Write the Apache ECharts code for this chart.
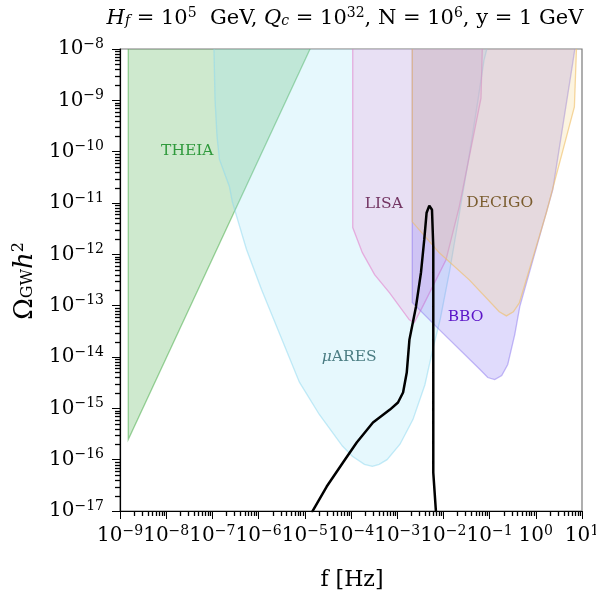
<!DOCTYPE html>
<html><head><meta charset="utf-8">
<script src="https://cdn.jsdelivr.net/npm/echarts@6/dist/echarts.min.js"></script>
<style>html,body{margin:0;padding:0;background:#fff}#c{width:596px;height:599px}</style>
</head><body><div id="c"></div><script>
// ---- data (frequency [Hz], Omega_GW h^2) ----
const xTickExps = [-9,-8,-7,-6,-5,-4,-3,-2,-1,0,1];
const yTickExps = [-17,-16,-15,-14,-13,-12,-11,-10,-9,-8];

const theiaF = [1.51e-9, 1.51e-9, 1.30e-5, 4.28e-5];
const theiaO = [1e-7, 2.47e-16, 1e-8, 1e-7];

const aresF = [1.08e-7,1.08e-7,1.14e-7,1.26e-7,1.42e-7,2.33e-7,2.71e-7,5.45e-7,1.15e-6,7.64e-6,2.06e-5,6.52e-5,1.07e-4,1.95e-4,2.90e-4,4.07e-4,6.03e-4,1.15e-3,2.19e-3,3.98e-3,5.89e-3,8.51e-3,1.38e-2,2.29e-2,3.80e-2,5.62e-2,7.59e-2,8.71e-2,9.8e-2];
const aresO = [1e-7,1e-8,1.03e-9,1.96e-10,7.05e-11,2.10e-11,1.04e-11,1.26e-12,2.09e-13,3.24e-15,7.59e-16,1.84e-16,1.17e-16,8.13e-17,7.41e-17,8.13e-17,1.0e-16,2.0e-16,6.03e-16,2.88e-15,1.41e-14,5.37e-14,5.01e-13,7.41e-12,1.10e-10,1.02e-9,6.17e-9,1e-8,1e-7];

const lisaF = [1.09e-4,1.09e-4,1.76e-4,3.24e-4,6.84e-4,1.83e-3,2.34e-3,3.55e-3,6.92e-3,1.14e-2,2.21e-2,6.52e-2,6.95e-2,7.2e-2];
const lisaO = [1e-7,3.32e-12,1.08e-12,4.04e-13,1.78e-13,5.30e-14,4.68e-14,9.6e-14,3.18e-13,7.80e-13,8.51e-12,1.10e-9,1e-8,1e-7];

const bboF = [2.12e-3,2.12e-3,8.15e-3,6.11e-2,9.12e-2,0.129,0.183,0.247,0.350,0.450,2.33,6.31,7.0,8.0];
const bboO = [1e-7,1.15e-13,3.42e-14,5.75e-15,3.98e-15,3.63e-15,4.36e-15,7.14e-15,2.74e-14,9.6e-14,1.82e-11,5.37e-9,1e-8,1e-7];

const decigoF = [2.12e-3,2.12e-3,8.15e-3,3.63e-2,0.162,0.231,0.327,0.440,1.69,6.84,7.59,8.5];
const decigoO = [1e-7,4.29e-12,1.07e-12,3.18e-13,7.59e-14,6.31e-14,7.59e-14,1.13e-13,6.41e-12,7.41e-10,1e-8,1e-7];

const sigF = [1.41e-5,2.98e-5,6.71e-5,1.33e-4,2.99e-4,6.98e-4,1.04e-3,1.34e-3,1.61e-3,1.84e-3,2.55e-3,3.27e-3,3.85e-3,4.33e-3,4.95e-3,5.40e-3,5.66e-3,6.04e-3,6.04e-3,6.04e-3,6.92e-3];
const sigO = [9.3e-18,3.0e-17,8.8e-17,2.16e-16,5.28e-16,9.46e-16,1.30e-15,2.03e-15,4.98e-15,2.18e-14,9.57e-14,4.40e-13,1.93e-12,6.47e-12,8.87e-12,8.6e-12,7.41e-12,1.41e-12,1.58e-14,5.6e-17,9.3e-18];

const labelNames = ['THEIA','LISA','DECIGO','BBO','muARES'];
const labelF = [2.86e-8, 5.13e-4, 0.166, 3.02e-2, 9.12e-5];
const labelO = [1.05e-10, 9.64e-12, 1.02e-11, 5.89e-14, 1.02e-14];

// ---- styles ----
const FONT = '"DejaVu Serif", serif';
const labelColors = ['#2f9a3c','#733563','#7a5c2e','#5b14c8','#4b7d83'];

function zip(a,b){ return a.map((v,i)=>[v,b[i]]); }
function polySeries(name, fArr, oArr, fill, stroke){
  return {
    type:'custom', name, clip:true, silent:true,
    data: zip(fArr,oArr),
    renderItem(params, api){
      if (params.dataIndex !== 0) return null;
      const pts = fArr.map((f,i)=>api.coord([f,oArr[i]]));
      return {type:'polygon', shape:{points:pts}, style:{fill, stroke, lineWidth:1.3}};
    }
  };
}
function supLabel(v){
  const e = Math.round(Math.log10(v));
  return '{b|10}{s|' + (e<0 ? '\u2212'+(-e) : e) + '}';
}
const tickRich = {
  b:{fontSize:20, fontFamily:FONT, color:'#000'},
  s:{fontSize:14, fontFamily:FONT, color:'#000', padding:[0,0,10,0]}
};

const minorX = [], minorY = [];
xTickExps.slice(0,-1).forEach(e=>{ for(let k=2;k<=9;k++) minorX.push(k*Math.pow(10,e)); });
yTickExps.slice(0,-1).forEach(e=>{ for(let k=2;k<=9;k++) minorY.push(k*Math.pow(10,e)); });
const xMin = Math.pow(10,xTickExps[0]), xMax = Math.pow(10,xTickExps[xTickExps.length-1]);
const yMin = Math.pow(10,yTickExps[0]), yMax = Math.pow(10,yTickExps[yTickExps.length-1]);

const chart = echarts.init(document.getElementById('c'), null, {renderer:'canvas'});
chart.setOption({
  animation:false,
  backgroundColor:'#fff',
  grid:{left:120, top:49, width:462, height:462, show:true, borderColor:'#7a7a7a', borderWidth:1.2,
        containLabel:false, outerBoundsMode:'none'},
  xAxis:{
    type:'log', logBase:10, min:xMin, max:xMax, interval:1,
    axisLine:{show:true, lineStyle:{color:'#000', width:1.2}},
    axisTick:{show:true, inside:false, length:8, lineStyle:{color:'#000', width:1}},
    splitLine:{show:false},
    axisLabel:{margin:13, formatter:supLabel, rich:tickRich, hideOverlap:false, showMinLabel:true, showMaxLabel:true}
  },
  yAxis:{
    type:'log', logBase:10, min:yMin, max:yMax, interval:1,
    axisLine:{show:true, lineStyle:{color:'#000', width:1.2}},
    axisTick:{show:true, inside:false, length:8, lineStyle:{color:'#000', width:1}},
    splitLine:{show:false},
    axisLabel:{margin:16, formatter:supLabel, rich:tickRich, hideOverlap:false, showMinLabel:true, showMaxLabel:true}
  },
  series:[
    polySeries('THEIA', theiaF, theiaO, 'rgba(44,160,44,0.23)', 'rgba(44,160,44,0.45)'),
    polySeries('muARES', aresF, aresO, 'rgba(150,225,245,0.24)', 'rgba(140,215,240,0.5)'),
    polySeries('LISA', lisaF, lisaO, 'rgba(240,150,220,0.25)', 'rgba(225,120,200,0.55)'),
    polySeries('BBO', bboF, bboO, 'rgba(130,110,245,0.25)', 'rgba(140,120,240,0.5)'),
    polySeries('DECIGO', decigoF, decigoO, 'rgba(245,210,130,0.25)', 'rgba(240,190,100,0.6)'),
    {
      type:'custom', name:'labels', clip:false, silent:true,
      data: zip(labelF,labelO),
      renderItem(params, api){
        const i = params.dataIndex;
        const p = api.coord([labelF[i], labelO[i]]);
        const col = labelColors[i];
        const txt = labelNames[i]==='muARES' ? '{i|\u03BC}{n|ARES}' : '{n|'+labelNames[i]+'}';
        return {type:'text', x:p[0], y:p[1], style:{text:txt, align:'center', verticalAlign:'middle', fill:col,
          rich:{n:{fontSize:15.5, fontFamily:FONT, color:col}, i:{fontSize:15.5, fontFamily:FONT, fontStyle:'italic', color:col}}}};
      }
    },
    {
      type:'line', name:'signal', data: zip(sigF,sigO), showSymbol:false, symbol:'none', smooth:false,
      lineStyle:{color:'#000', width:2.5}, clip:true, z:5
    }
  ]
});

const elements = [
  {type:'text', x:345, y:21, style:{
    text:'{i|H}{sub|f}{n| = 10}{sup|5}{n|  GeV, }{i|Q}{sub|c}{n| = 10}{sup|32}{n|, N = 10}{sup|6}{n|, y = 1 GeV}',
    align:'center', verticalAlign:'middle', fill:'#000',
    rich:{
      n:{fontSize:21, fontFamily:FONT, padding:[0,0,5,0]},
      i:{fontSize:21, fontFamily:FONT, fontStyle:'italic', padding:[0,0,5,0]},
      sub:{fontSize:14, fontFamily:FONT, fontStyle:'italic'},
      sup:{fontSize:14, fontFamily:FONT, padding:[0,0,15,0]}
    }}},
  {type:'text', x:352, y:580, style:{text:'f [Hz]', font:'22px '+FONT, align:'center', verticalAlign:'middle', fill:'#000'}},
  {type:'text', x:28, y:281, rotation:Math.PI/2, style:{
    text:'{n|\u03A9}{sub|GW}{i|h}{sup|2}', align:'center', verticalAlign:'middle', fill:'#000',
    rich:{
      n:{fontSize:26, fontFamily:FONT, padding:[0,0,6,0]},
      i:{fontSize:26, fontFamily:FONT, fontStyle:'italic', padding:[0,0,6,0]},
      sub:{fontSize:16, fontFamily:FONT},
      sup:{fontSize:16, fontFamily:FONT, padding:[0,0,18,0]}
    }}}
];
// minor ticks (2..9 in every decade), positioned through the axis scales
minorX.forEach(v=>{
  const p = chart.convertToPixel({gridIndex:0}, [v, yMin]);
  const x = Math.round(p[0]) + 0.5;
  elements.push({type:'line', z:100, shape:{x1:x, y1:p[1], x2:x, y2:p[1]+5}, style:{stroke:'#000', lineWidth:1.3}});
});
minorY.forEach(v=>{
  const p = chart.convertToPixel({gridIndex:0}, [xMin, v]);
  const y = Math.round(p[1]) + 0.5;
  elements.push({type:'line', z:100, shape:{x1:p[0], y1:y, x2:p[0]-5, y2:y}, style:{stroke:'#000', lineWidth:1.3}});
});
chart.setOption({graphic:{elements}});
</script></body></html>
